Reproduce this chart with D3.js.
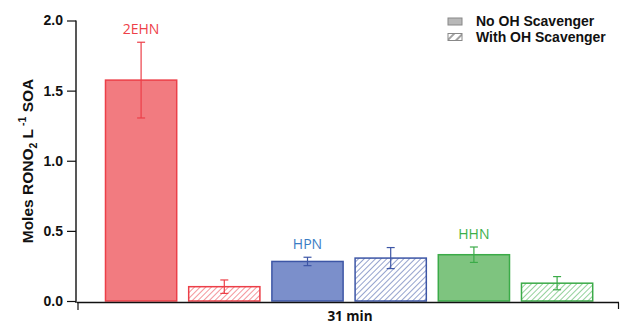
<!DOCTYPE html>
<html><head><meta charset="utf-8">
<script src="https://cdn.jsdelivr.net/npm/d3@7"></script>
<style>body{margin:0;background:#fff}svg{display:block}</style>
</head><body>
<script>
const categories = ["2EHN","2EHN","HPN","HPN","HHN","HHN"];
const conditions = ["No OH Scavenger","With OH Scavenger","No OH Scavenger","With OH Scavenger","No OH Scavenger","With OH Scavenger"];
const values = [1.575, 0.102, 0.282, 0.306, 0.33, 0.127];
const errors = [0.27, 0.048, 0.03, 0.075, 0.055, 0.047];
const yTicks = [0.0, 0.5, 1.0, 1.5, 2.0];
const xLabel = "31 min";
const compoundColors = {
  "2EHN":{fill:"#f27b80",stroke:"#ec3f48",label:"#ee4048"},
  "HPN":{fill:"#7b8fcb",stroke:"#3d56a6",label:"#3a7cc4"},
  "HHN":{fill:"#7ec47f",stroke:"#3bab48",label:"#3bb04a"}};

const W=621,H=325;
const svg=d3.select("body").append("svg").attr("width",W).attr("height",H);
const defs=svg.append("defs");
Object.entries(compoundColors).forEach(([k,c])=>{
  const p=defs.append("pattern").attr("id","hatch-"+k).attr("patternUnits","userSpaceOnUse")
    .attr("width",4).attr("height",4).attr("patternTransform","rotate(45)");
  p.append("rect").attr("width",4).attr("height",4).attr("fill","#fff");
  p.append("line").attr("x1",0).attr("y1",0).attr("x2",0).attr("y2",4).attr("stroke",c.stroke).attr("stroke-width",1.1);
});
const lp=defs.append("pattern").attr("id","hatch-legend").attr("patternUnits","userSpaceOnUse")
  .attr("width",6).attr("height",6).attr("patternTransform","rotate(-45)");
lp.append("rect").attr("width",6).attr("height",6).attr("fill","#fff");
lp.append("line").attr("x1",0).attr("y1",3).attr("x2",6).attr("y2",3).attr("stroke","#8a8a8a").attr("stroke-width",1.6);

const y=d3.scaleLinear().domain([0,2]).range([301,20.5]);
const x=d3.scaleBand().domain(d3.range(values.length)).range([99.5,598.7]).paddingInner(0.132).paddingOuter(0.066);

// y axis
const yAxis=svg.append("g").attr("transform","translate(76,0)")
  .call(d3.axisLeft(y).tickValues(yTicks).tickFormat(d3.format(".1f")).tickSize(9).tickSizeOuter(0));
yAxis.select(".domain").attr("stroke","#111").attr("stroke-width",1.4);
yAxis.selectAll(".tick line").attr("stroke","#111").attr("stroke-width",1.2);
yAxis.selectAll(".tick text").attr("x",-13).attr("font-family","Liberation Sans, Arial, sans-serif").attr("font-weight","bold").attr("font-size","14px").attr("fill","#111");
yAxis.select(".domain").attr("d","M0,"+(y(0)+2)+"V"+y(2));

// bars
const g=svg.append("g");
values.forEach((v,i)=>{
  const c=compoundColors[categories[i]];
  const hatched=conditions[i]==="With OH Scavenger";
  g.append("rect").attr("x",x(i)+0.5).attr("y",y(v)).attr("width",x.bandwidth()-1).attr("height",y(0)-y(v))
    .attr("fill",hatched?"url(#hatch-"+categories[i]+")":c.fill).attr("stroke",c.stroke).attr("stroke-width",1.5);
  const cx=x(i)+x.bandwidth()/2, e=errors[i];
  const eg=g.append("g").attr("stroke",c.stroke).attr("stroke-width",1.2);
  eg.append("line").attr("x1",cx).attr("x2",cx).attr("y1",y(v+e)).attr("y2",y(v-e));
  eg.append("line").attr("x1",cx-4).attr("x2",cx+4).attr("y1",y(v+e)).attr("y2",y(v+e));
  eg.append("line").attr("x1",cx-4).attr("x2",cx+4).attr("y1",y(v-e)).attr("y2",y(v-e));
  if(!hatched){
    g.append("text").attr("x",cx).attr("y",y(v+e)-8).attr("text-anchor","middle")
      .attr("font-family","Open Sans, sans-serif").attr("font-size","14px").attr("fill",c.label).text(categories[i]);
  }
});

// x axis
svg.append("line").attr("x1",77).attr("x2",619).attr("y1",302.5).attr("y2",302.5).attr("stroke","#111").attr("stroke-width",1.4);
svg.append("line").attr("x1",78).attr("x2",78).attr("y1",302.5).attr("y2",310).attr("stroke","#111").attr("stroke-width",1.2);
svg.append("line").attr("x1",618.5).attr("x2",618.5).attr("y1",302.5).attr("y2",309).attr("stroke","#111").attr("stroke-width",1.2);
svg.append("text").attr("x",350).attr("y",320.5).attr("text-anchor","middle")
  .attr("font-family","Open Sans, sans-serif").attr("font-weight","bold").attr("font-size","13.5px").attr("fill","#111").text(xLabel);

// y label
const yl=svg.append("text").attr("transform","translate(33,161) rotate(-90)").attr("text-anchor","middle")
  .attr("font-family","Liberation Sans, Arial, sans-serif").attr("font-weight","bold").attr("font-size","15.5px").attr("fill","#111");
yl.append("tspan").text("Moles RONO");
yl.append("tspan").attr("font-size","10.5px").attr("dy",4).text("2");
yl.append("tspan").attr("dy",-4).text(" L");
yl.append("tspan").attr("font-size","10.5px").attr("dy",-7).text(" -1");
yl.append("tspan").attr("dy",7).text(" SOA");

// legend
const legend=[{label:"No OH Scavenger",fill:"#b8b8b8"},{label:"With OH Scavenger",fill:"url(#hatch-legend)"}];
legend.forEach((d,i)=>{
  const ly=18+i*15.5;
  svg.append("rect").attr("x",448).attr("y",ly).attr("width",14).attr("height",7).attr("fill",d.fill).attr("stroke","#888").attr("stroke-width",1);
  svg.append("text").attr("x",476).attr("y",ly+8.3).attr("font-family","Liberation Sans, Arial, sans-serif")
    .attr("font-weight","bold").attr("font-size","14px").attr("fill","#111").text(d.label);
});
</script>
</body></html>
